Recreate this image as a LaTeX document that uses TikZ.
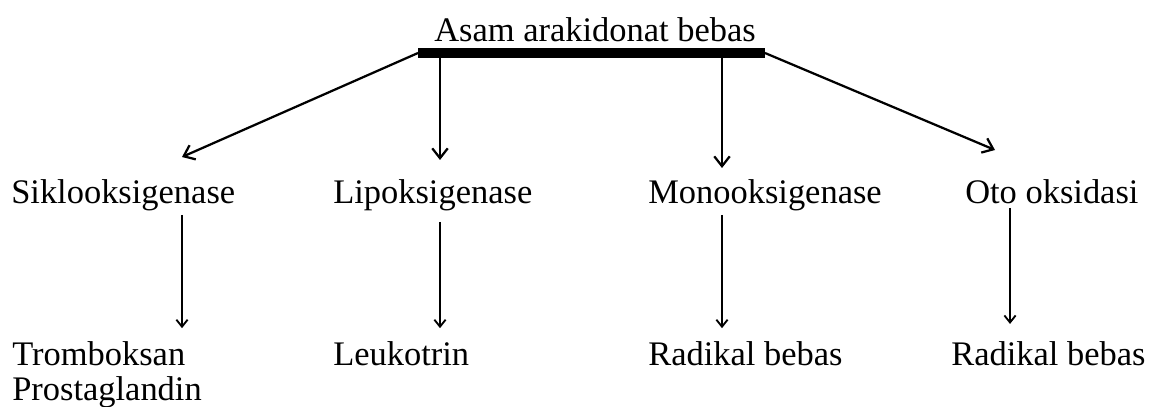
\documentclass[tikz,border=0pt]{standalone}
\usepackage{fontspec}
\setmainfont{Liberation Serif}
\usetikzlibrary{arrows.meta}

\begin{document}
\begin{tikzpicture}[x=0.025cm, y=-0.025cm, >={Straight Barb[length=7pt, width=11pt]},
    lbl/.style={inner sep=0pt, anchor=base west, font=\fontsize{24.5}{29}\selectfont},
    link/.style={->, line width=1.6pt},
    down/.style={->, line width=1.3pt, >={Straight Barb[length=5pt, width=8pt]},
      shorten <=3pt, shorten >=9pt}]
    \useasboundingbox (0,0) rectangle (1160,407);
    % Source and its bar
    \node[lbl, anchor=base] (asam) at (595,42) {Asam arakidonat bebas};
    \coordinate (barL) at (418,53);
    \coordinate (barR) at (765,53);
    \draw[line width=6.5pt] (barL) -- (barR);
    % Enzymes
    \node[lbl] (sik)  at (11,203)  {Siklooksigenase};
    \node[lbl] (lip)  at (333,203) {Lipoksigenase};
    \node[lbl] (mono) at (648,203) {Monooksigenase};
    \node[lbl] (oto)  at (965,203) {Oto oksidasi};
    % Products
    \node[lbl] (trom)  at (12,365)  {Tromboksan};
    \node[lbl] (prost) at (12,400)  {Prostaglandin};
    \node[lbl] (leuk)  at (333,365) {Leukotrin};
    \node[lbl] (rad1)  at (648,365) {Radikal bebas};
    \node[lbl] (rad2)  at (951,365) {Radikal bebas};
    % Arrow tips below the bar
    \coordinate (tipA) at (182,157);
    \coordinate (tipB) at (440,160);
    \coordinate (tipC) at (722,168);
    \coordinate (tipD) at (995,150);
    \coordinate (colD) at (1010,0);
    \draw[link] (barL) -- (tipA);
    \draw[link] (barL -| tipB) -- (tipB);
    \draw[link] (barR -| tipC) -- (tipC);
    \draw[link] (barR) -- (tipD);
    % Enzymes to products
    \draw[down] (sik.south -| tipA) -- (trom.north -| tipA);
    \draw[down, shorten <=8pt] (lip.south -| tipB) -- (leuk.north -| tipB);
    \draw[down] (mono.south -| tipC) -- (rad1.north -| tipC);
    \draw[down, shorten >=12pt] (oto.south -| colD) -- (rad2.north -| colD);
\end{tikzpicture}
\end{document}
